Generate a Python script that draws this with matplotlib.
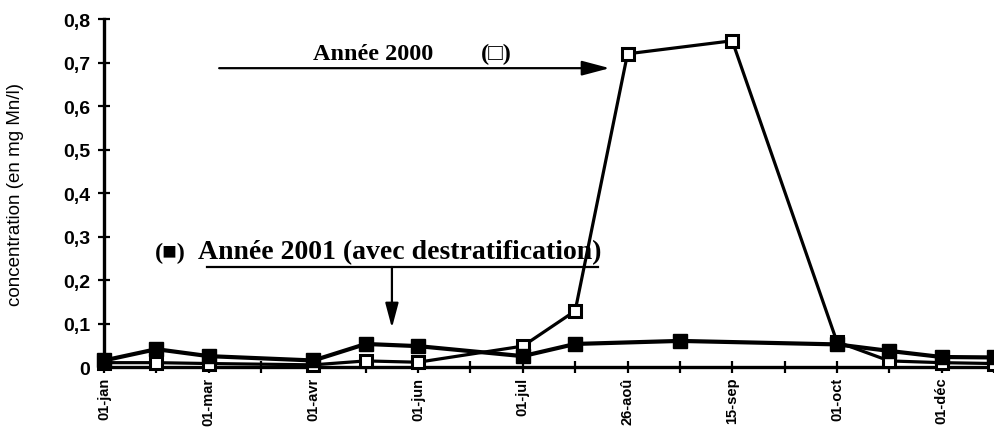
import numpy as np
import matplotlib
matplotlib.use("Agg")
import matplotlib.pyplot as plt

# Category positions (every tick of the category axis); labels shown on every other tick
tick_labels = ["01-jan", "", "01-mar", "", "01-avr", "", "01-jun", "", "01-jul", "",
               "26-aoû", "", "15-sep", "", "01-oct", "", "01-déc", ""]
y_ticks = [0, 0.1, 0.2, 0.3, 0.4, 0.5, 0.6, 0.7, 0.8]
y_tick_labels = ["0", "0,1", "0,2", "0,3", "0,4", "0,5", "0,6", "0,7", "0,8"]

nan = np.nan
# Année 2000 (open squares)
annee_2000 = [0.010, 0.010, 0.008, nan, 0.005, 0.014, 0.011, nan, 0.048, 0.129,
              0.720, nan, 0.750, nan, 0.058, 0.014, 0.010, 0.008]
# Année 2001 avec destratification (filled squares)
annee_2001 = [0.015, 0.041, 0.025, nan, 0.015, 0.053, 0.048, nan, 0.025, 0.053,
              nan, 0.060, nan, nan, 0.052, 0.037, 0.023, 0.022]

fig = plt.figure(figsize=(9.94, 4.39), dpi=100)
ax = fig.add_axes([0.1046, 0.1617, 0.8954, 0.7927])

x = np.arange(len(tick_labels))
a0 = np.array(annee_2000, dtype=float)
a1 = np.array(annee_2001, dtype=float)
m0 = ~np.isnan(a0)
m1 = ~np.isnan(a1)

ax.plot(x[m0], a0[m0], color="black", lw=2.3, marker="s", markersize=9,
        markerfacecolor="white", markeredgecolor="black", markeredgewidth=2.2,
        zorder=3, clip_on=False)
ax.plot(x[m1], a1[m1], color="black", lw=3.0, marker="s", markersize=10,
        markerfacecolor="black", markeredgecolor="black", zorder=4, clip_on=False)

ax.set_xlim(0, 17.0)
ax.set_ylim(0, 0.8)
ax.set_xticks(x)
ax.set_xticklabels(tick_labels, rotation=90, fontsize=10.5, fontweight="bold",
                   family="Liberation Sans")
ax.set_yticks(y_ticks)
ax.set_yticklabels(y_tick_labels, fontsize=14, fontweight="bold",
                   family="Liberation Sans")
ax.tick_params(axis="both", direction="inout", length=8, width=1.6, color="black")
ax.tick_params(axis="y", pad=6)
ax.tick_params(axis="x", pad=3)

for s in ["top", "right"]:
    ax.spines[s].set_visible(False)
for s in ["left", "bottom"]:
    ax.spines[s].set_linewidth(2.4)

ax.set_ylabel("concentration (en mg Mn/l)", fontsize=13.5, family="Liberation Sans",
              labelpad=28)

serif = ["Liberation Serif", "DejaVu Serif"]
# Année 2000 annotation
ax.annotate("", xy=(9.66, 0.687), xytext=(2.2, 0.687),
            arrowprops=dict(arrowstyle="-|>,head_length=1.7,head_width=0.45",
                            color="black", lw=1.6, shrinkA=0, shrinkB=0))
ax.text(3.99, 0.708, "Année 2000", fontsize=17.5, fontweight="bold", family=serif,
        ha="left", va="baseline")
ax.text(7.5, 0.708, "(□)", fontsize=17.5, fontweight="bold", family=serif,
        ha="center", va="baseline")

# Année 2001 annotation
ax.text(0.97, 0.25, "(■)", fontsize=17.5, fontweight="bold", family=serif,
        ha="left", va="baseline")
ax.text(1.80, 0.25, "Année 2001 (avec destratification)", fontsize=20,
        fontweight="bold", family=serif, ha="left", va="baseline")
ax.plot([1.97, 9.43], [0.230, 0.230], color="black", lw=1.6)
ax.annotate("", xy=(5.5, 0.09), xytext=(5.5, 0.230),
            arrowprops=dict(arrowstyle="-|>,head_length=1.5,head_width=0.4",
                            color="black", lw=1.6, shrinkA=0, shrinkB=0))

fig.savefig("out.png", dpi=100)
